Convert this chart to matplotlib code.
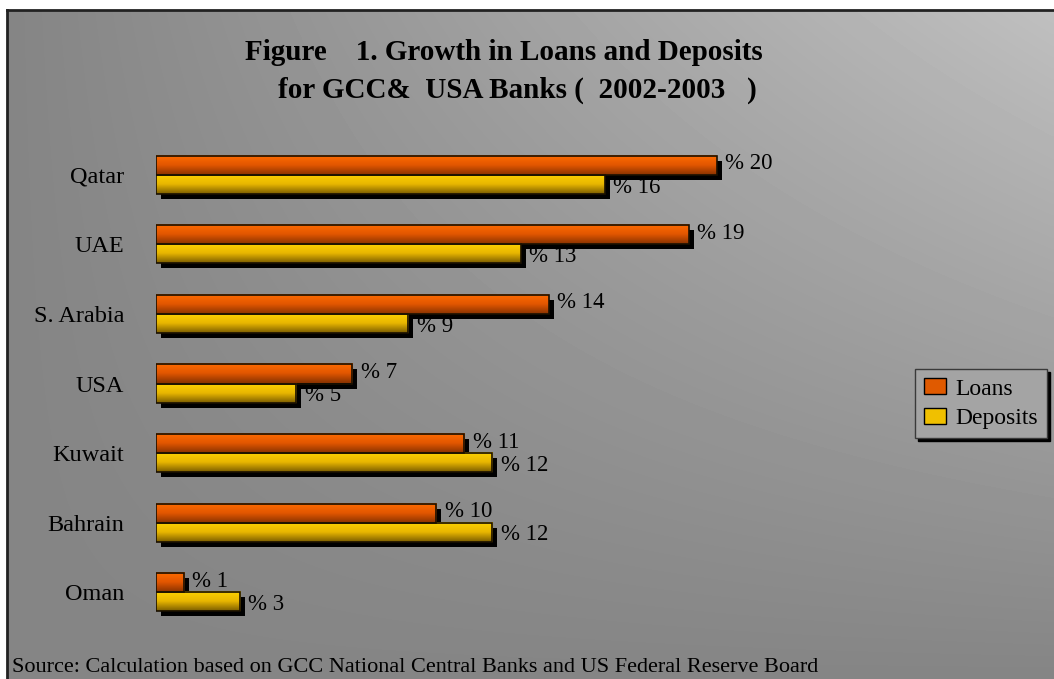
import numpy as np
import matplotlib
matplotlib.use("Agg")
import matplotlib.pyplot as plt
from matplotlib.colors import LinearSegmentedColormap
from matplotlib.patches import Patch
from matplotlib.transforms import offset_copy

countries = ["Qatar", "UAE", "S. Arabia", "USA", "Kuwait", "Bahrain", "Oman"]
loans = [20, 19, 14, 7, 11, 10, 1]
deposits = [16, 13, 9, 5, 12, 12, 3]
series_names = ["Loans", "Deposits"]
title_1 = "Figure    1. Growth in Loans and Deposits"
title_2 = "for GCC&  USA Banks (  2002-2003   )"
source_note = "Source: Calculation based on GCC National Central Banks and US Federal Reserve Board"

plt.rcParams["font.family"] = "Liberation Serif"

W, H = 1054, 679
fig = plt.figure(figsize=(W / 100, H / 100), dpi=100)

# grey shaded panel, light in the upper right, framed on top and left
bg = fig.add_axes([7 / W, 0, 1 - 7 / W, 1 - 10 / H])
X, Y = np.meshgrid(np.linspace(0, 1, 300), np.linspace(0, 1, 200))
shade = 0.52 + 0.23 * X * (1 - Y)
bg.imshow(shade, cmap="gray", vmin=0, vmax=1, aspect="auto",
          extent=[0, 1, 0, 1], origin="upper", interpolation="bilinear")
bg.set_xticks([])
bg.set_yticks([])
for side in ["right", "bottom"]:
    bg.spines[side].set_visible(False)
for side in ["left", "top"]:
    bg.spines[side].set_linewidth(2)
    bg.spines[side].set_color("#222222")
bg.set_zorder(-1)

ax = fig.add_axes([156 / W, 1 - 627 / H, 715 / W, 487 / H])
ax.set_facecolor("none")

loan_cmap = LinearSegmentedColormap.from_list("loan", ["#ff6c00", "#e25600", "#8a3300"])
dep_cmap = LinearSegmentedColormap.from_list("dep", ["#fcd200", "#e8b600", "#7c5e00"])
grad = np.linspace(0, 1, 60).reshape(-1, 1)

y = np.arange(len(countries))
h = 0.275
shadow_tf = offset_copy(ax.transData, fig=fig, x=5, y=-5, units="dots")

for vals, offs, cmap, dy in [(loans, -h / 2, loan_cmap, 1), (deposits, h / 2, dep_cmap, -2)]:
    pos = y + offs
    # black drop shadow under each bar
    ax.barh(pos, vals, height=h, color="black", transform=shadow_tf, zorder=1)
    bars = ax.barh(pos, vals, height=h, facecolor="none",
                   edgecolor="#1a1000", linewidth=1.2, zorder=3)
    for bar in bars:
        x0, y0 = bar.get_x(), bar.get_y()
        ax.imshow(grad, cmap=cmap, aspect="auto", interpolation="bilinear",
                  extent=(x0, x0 + bar.get_width(), y0 + bar.get_height(), y0), zorder=2)
    for v, p in zip(vals, pos):
        ax.annotate(f"% {v}", xy=(v, p), xytext=(6, dy), textcoords="offset points",
                    va="center", fontsize=16.5)

ax.set_xlim(0, 25.5)
ax.set_ylim(6.5, -0.5)
ax.set_yticks(y, countries, fontsize=17.5)
ax.tick_params(axis="y", length=0, pad=23)
ax.set_xticks([])
for s in ax.spines.values():
    s.set_visible(False)

fig.text(504 / W, 1 - 52 / H, title_1, ha="center", va="center", fontsize=21, fontweight="bold")
fig.text(517 / W, 1 - 90 / H, title_2, ha="center", va="center", fontsize=21, fontweight="bold")

handles = [Patch(facecolor="#e05a00", edgecolor="black"),
           Patch(facecolor="#f0c000", edgecolor="black")]
leg = fig.legend(handles=handles, labels=series_names, loc="upper left",
                 bbox_to_anchor=(915 / W, 1 - 369 / H), borderaxespad=0,
                 fontsize=17, fancybox=False, framealpha=1, facecolor="#a4a4a4",
                 edgecolor="#3a3a3a", handlelength=0.9, handleheight=0.65,
                 handletextpad=0.4, labelspacing=0.35, borderpad=0.4,
                 shadow={"color": "black", "alpha": 1})

fig.text(12 / W, 1 - 668 / H, source_note, va="center", fontsize=16)

fig.savefig("out.png", dpi=100)
